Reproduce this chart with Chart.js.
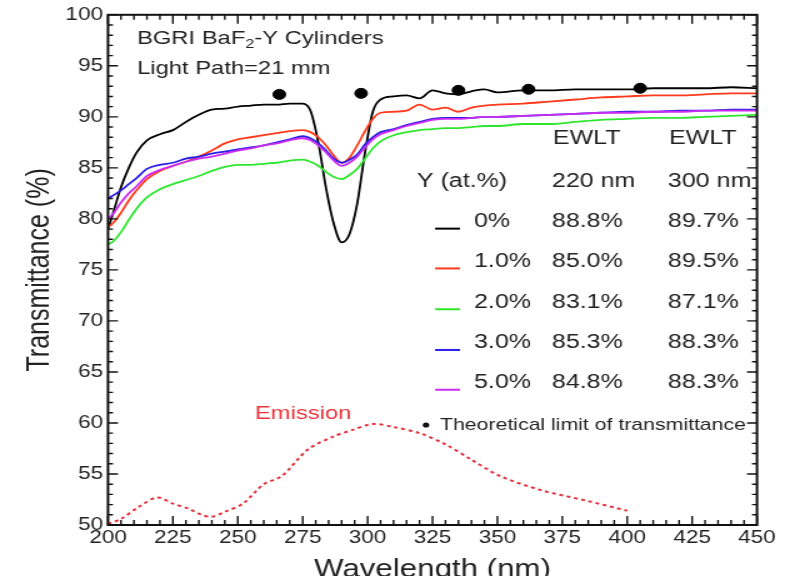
<!DOCTYPE html>
<html>
<head>
<meta charset="utf-8">
<script src="https://cdn.jsdelivr.net/npm/chart.js@4.4.1/dist/chart.umd.min.js"></script>
<style>
  html, body { margin: 0; padding: 0; background: #fff; overflow: hidden; }
  #wrap { width: 634px; height: 600px; transform: scale(1.25, 1); transform-origin: 0 0; }
</style>
</head>
<body>
<div id="wrap"><canvas id="trans" width="634" height="600"></canvas></div>
<script>
// Transmittance of BaF2:Y cylinders vs wavelength
const wavelengths = [200, 202, 205, 208, 211, 215, 220, 225, 230, 235, 240, 245, 250, 255, 260, 265, 270, 275,
  278, 281, 284, 287, 290, 293, 296, 299, 302, 305, 310, 315, 320, 325, 330, 335, 340, 345, 350,
  360, 370, 380, 390, 400, 410, 420, 430, 440, 450];

const y0 = [79.0, 80.6, 83.1, 85.0, 86.5, 87.7, 88.3, 88.7, 89.5, 90.2, 90.7, 90.8, 91.0, 91.1, 91.2, 91.2, 91.3, 91.3,
  90.6, 87.5, 83.0, 79.5, 77.7, 78.5, 81.5, 86.5, 90.5, 91.7, 92.0, 92.1, 91.8, 92.6, 92.3, 92.2, 92.5, 92.7, 92.4,
  92.6, 92.6, 92.7, 92.7, 92.7, 92.8, 92.8, 92.8, 92.9, 92.8];
const y1 = [79.2, 79.6, 80.6, 81.8, 82.8, 83.9, 84.7, 85.2, 85.6, 86.1, 86.7, 87.4, 87.8, 88.0, 88.2, 88.4, 88.6, 88.7,
  88.5, 88.0, 87.2, 86.2, 85.5, 86.0, 87.2, 88.6, 89.8, 90.4, 90.5, 90.6, 91.2, 90.7, 90.9, 90.5, 90.9, 91.1, 91.2,
  91.3, 91.5, 91.7, 91.9, 92.0, 92.1, 92.1, 92.2, 92.3, 92.3];
const y2 = [77.5, 77.8, 78.7, 79.9, 81.0, 82.1, 82.9, 83.4, 83.8, 84.2, 84.7, 85.1, 85.3, 85.3, 85.4, 85.5, 85.7, 85.8,
  85.6, 85.2, 84.6, 84.1, 83.9, 84.3, 84.9, 85.9, 86.9, 87.6, 88.2, 88.5, 88.7, 88.8, 88.9, 88.9, 89.0, 89.1, 89.1,
  89.3, 89.3, 89.5, 89.7, 89.8, 89.9, 89.9, 90.0, 90.1, 90.2];
const y3 = [82.0, 82.3, 82.8, 83.4, 84.0, 84.9, 85.3, 85.5, 85.9, 86.1, 86.4, 86.6, 86.8, 87.0, 87.2, 87.5, 87.8, 88.1,
  87.9, 87.4, 86.7, 85.9, 85.5, 85.8, 86.3, 87.3, 88.0, 88.5, 88.8, 89.2, 89.5, 89.8, 89.9, 89.9, 89.9, 90.0, 90.0,
  90.1, 90.2, 90.3, 90.4, 90.5, 90.5, 90.6, 90.6, 90.7, 90.7];
const y5 = [80.0, 80.5, 81.6, 82.5, 83.2, 84.2, 84.8, 85.2, 85.6, 85.9, 86.1, 86.4, 86.7, 86.9, 87.2, 87.4, 87.7, 87.9,
  87.7, 87.2, 86.5, 85.7, 85.2, 85.5, 86.1, 87.0, 87.8, 88.3, 88.7, 89.1, 89.4, 89.7, 89.8, 89.8, 89.9, 90.0, 90.0,
  90.1, 90.2, 90.3, 90.4, 90.4, 90.5, 90.5, 90.6, 90.6, 90.6];

// emission spectrum (arbitrary units, plotted on the same axis)
const emissionWl = [200, 205, 212, 219, 225, 231, 236, 240, 245, 252, 260, 267, 277, 287, 294, 302, 310, 320, 330, 340, 351, 367, 384, 400];
const emission = [50.1, 50.6, 51.8, 52.7, 52.1, 51.6, 51.0, 50.8, 51.3, 52.1, 54.0, 54.8, 57.4, 58.7, 59.3, 59.9, 59.6, 59.0, 57.9, 56.4, 54.8, 53.4, 52.4, 51.4];

// theoretical limit of transmittance
const limitWl = [266, 297.5, 335, 362, 405];
const limitT = [92.2, 92.3, 92.6, 92.7, 92.8];

// table contents
const yLevels = ['0%', '1.0%', '2.0%', '3.0%', '5.0%'];
const ewlt220 = ['88.8%', '85.0%', '83.1%', '85.3%', '84.8%'];
const ewlt300 = ['89.7%', '89.5%', '87.1%', '88.3%', '88.3%'];

const xMin = 200, xMax = 450, xMajor = 25, xMinor = 5;
const yMin = 50, yMax = 100, yMajor = 5, yMinor = 1;

const seriesColors = ['#000000', '#ff3a1c', '#2fe62f', '#2a1ee6', '#cc2cf2'];
const FONT = '"Liberation Sans", Arial, sans-serif';

function pts(xs, ys) {
    return xs.map((x, i) => ({ x: x, y: ys[i] }));
}

const curves = [y0, y1, y2, y3, y5].map((ys, i) => ({
    label: yLevels[i],
    data: pts(wavelengths, ys),
    borderColor: seriesColors[i],
    borderWidth: 1.8,
    pointRadius: 0,
    cubicInterpolationMode: 'monotone',
    order: 5 - i
}));

// frame with inward ticks on all sides, plus the text annotations
const framePlugin = {
    id: 'framePlugin',
    afterDraw(chart) {
        const ctx = chart.ctx;
        const { left, right, top, bottom } = chart.chartArea;
        const xs = chart.scales.x, ys = chart.scales.y;

        ctx.save();
        ctx.strokeStyle = '#111';
        ctx.lineWidth = 2;
        ctx.strokeRect(left, top, right - left, bottom - top);

        ctx.lineWidth = 1.4;
        ctx.beginPath();
        for (let v = xMin; v <= xMax; v += xMinor) {
            const px = xs.getPixelForValue(v);
            const len = v % xMajor === 0 ? 9 : 5;
            ctx.moveTo(px, bottom); ctx.lineTo(px, bottom - len);
            ctx.moveTo(px, top); ctx.lineTo(px, top + len);
        }
        for (let v = yMin; v <= yMax; v += yMinor) {
            const py = ys.getPixelForValue(v);
            const len = v % yMajor === 0 ? 8 : 4;
            ctx.moveTo(left, py); ctx.lineTo(left + len, py);
            ctx.moveTo(right, py); ctx.lineTo(right - len, py);
        }
        ctx.stroke();

        const X = v => xs.getPixelForValue(v);
        const Y = v => ys.getPixelForValue(v);
        ctx.textBaseline = 'middle';
        ctx.textAlign = 'left';
        ctx.fillStyle = '#222';

        // sample title
        ctx.font = '19px ' + FONT;
        let tx = X(211.2);
        const ty = Y(97.66);
        ctx.fillText('BGRI BaF', tx, ty);
        tx += ctx.measureText('BGRI BaF').width;
        ctx.font = '13px ' + FONT;
        ctx.fillText('2', tx, ty + 6);
        tx += ctx.measureText('2').width;
        ctx.font = '19px ' + FONT;
        ctx.fillText('-Y Cylinders', tx, ty);
        ctx.fillText('Light Path=21 mm', X(211.2), Y(94.74));

        // EWLT table
        ctx.font = '20px ' + FONT;
        ctx.fillText('EWLT', X(371.4), Y(87.9));
        ctx.fillText('EWLT', X(416.1), Y(87.9));
        ctx.fillText('Y (at.%)', X(319.0), Y(83.7));
        ctx.fillText('220 nm', X(371.0), Y(83.7));
        ctx.fillText('300 nm', X(415.7), Y(83.7));
        const rowY = [79.73, 75.83, 71.83, 67.84, 63.94];
        yLevels.forEach((lvl, i) => {
            const py = Y(rowY[i]);
            ctx.strokeStyle = seriesColors[i];
            ctx.lineWidth = 2;
            ctx.beginPath();
            ctx.moveTo(X(326.0), py + 7);
            ctx.lineTo(X(335.6), py + 7);
            ctx.stroke();
            ctx.fillStyle = '#222';
            ctx.fillText(lvl, X(341.0), py);
            ctx.fillText(ewlt220[i], X(371.0), py);
            ctx.fillText(ewlt300[i], X(415.7), py);
        });

        // emission label and marker key
        ctx.fillStyle = '#e8333a';
        ctx.font = '19px ' + FONT;
        ctx.fillText('Emission', X(256.6), Y(60.9));
        ctx.fillStyle = '#111';
        ctx.beginPath();
        ctx.arc(X(322.5), Y(59.8), 2.6, 0, Math.PI * 2);
        ctx.fill();
        ctx.fillStyle = '#222';
        ctx.font = '17px ' + FONT;
        ctx.fillText('Theoretical limit of transmittance', X(327.9), Y(59.8));
        ctx.restore();
    }
};

const chart = new Chart(document.getElementById('trans'), {
    type: 'line',
    data: {
        datasets: [
            ...curves,
            {
                label: 'Emission',
                data: pts(emissionWl, emission),
                borderColor: '#e2303e',
                borderWidth: 2,
                borderDash: [3, 3],
                pointRadius: 0,
                tension: 0.3,
                order: 6
            },
            {
                label: 'Theoretical limit',
                data: pts(limitWl, limitT),
                showLine: false,
                pointRadius: 5,
                pointBackgroundColor: '#000',
                pointBorderColor: '#000',
                order: 0
            }
        ]
    },
    options: {
        responsive: false,
        animation: false,
        devicePixelRatio: 1,
        layout: { padding: { left: 13, right: 28.4, top: 12, bottom: 11 } },
        plugins: { legend: { display: false }, tooltip: { enabled: false } },
        scales: {
            x: {
                type: 'linear',
                min: xMin,
                max: xMax,
                grid: { display: false, drawTicks: false },
                border: { display: false },
                ticks: { stepSize: xMajor, padding: 2, color: '#222', font: { family: FONT, size: 18 } },
                title: { display: true, text: 'Wavelength (nm)', color: '#222', padding: { top: 0, bottom: 4 }, font: { family: FONT, size: 25 } },
                afterFit: s => { s.height = 64; }
            },
            y: {
                min: yMin,
                max: yMax,
                grid: { display: false, drawTicks: false },
                border: { display: false },
                ticks: { stepSize: yMajor, padding: 4, color: '#222', font: { family: FONT, size: 18 } },
                title: { display: true, text: 'Transmittance (%)', color: '#222', padding: 4, font: { family: FONT, size: 25 } },
                afterFit: s => { s.width = 73.4; }
            }
        }
    },
    plugins: [framePlugin]
});
</script>
</body>
</html>
